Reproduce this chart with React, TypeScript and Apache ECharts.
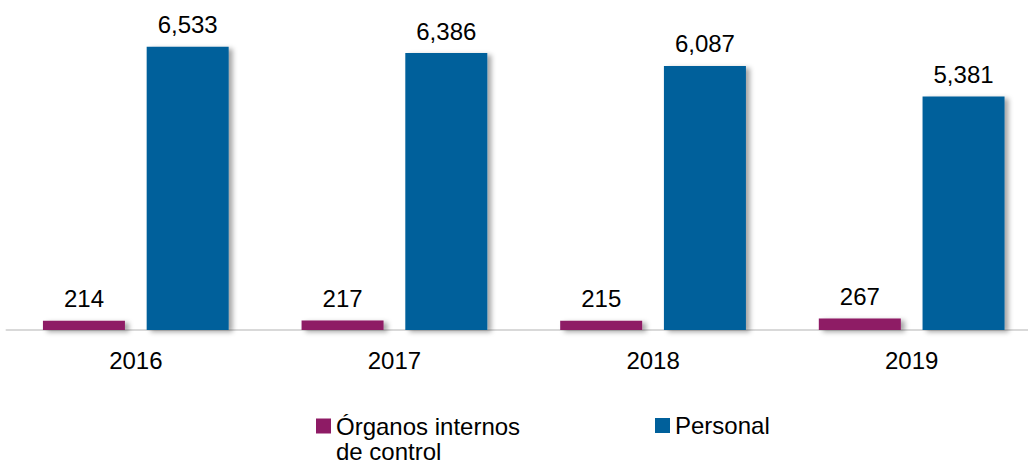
import React, { useEffect, useRef } from "react";
import * as echarts from "echarts";

const years = ["2016", "2017", "2018", "2019"];
const organosName = "Órganos internos de control";
const personalName = "Personal";
const organosValues = [214, 217, 215, 267];
const personalValues = [6533, 6386, 6087, 5381];

const FONT = 'Arial, "Liberation Sans", Helvetica, sans-serif';
const PURPLE = "#8E1B65";
const BLUE = "#00609B";

const fmt = (v: number) => v.toLocaleString("en-US");

export default function App() {
  const ref = useRef<HTMLDivElement>(null);
  useEffect(() => {
    if (!ref.current) return;
    const chart = echarts.init(ref.current, null, { renderer: "svg" });
    const shadow = {
      shadowBlur: 5,
      shadowOffsetX: 4,
      shadowOffsetY: 2,
      shadowColor: "rgba(0,0,0,0.35)",
    };
    const label = {
      show: true,
      position: "top",
      distance: 10,
      color: "#000",
      fontSize: 24,
      fontFamily: FONT,
      formatter: (p: any) => fmt(p.value),
    };
    chart.setOption({
      animation: false,
      backgroundColor: "#fff",
      grid: { left: 6.5, right: 0, top: 26.4, bottom: 134, outerBoundsMode: "none" },
      legend: [
        {
          data: [organosName],
          left: 316,
          top: 412.5,
          padding: 0,
          itemWidth: 15,
          itemHeight: 15,
          icon: "rect",
          formatter: () => "{a|Órganos internos}\n{b|de control}",
          textStyle: {
            fontSize: 24,
            fontFamily: FONT,
            color: "#000",
            rich: {
              a: {
                fontSize: 24,
                fontFamily: FONT,
                color: "#000",
                lineHeight: 45,
                height: 27,
                verticalAlign: "bottom",
              },
              b: {
                fontSize: 24,
                fontFamily: FONT,
                color: "#000",
                lineHeight: 18,
                height: 23,
                verticalAlign: "top",
              },
            },
          },
        },
        {
          data: [personalName],
          left: 655,
          top: 412,
          padding: 0,
          itemWidth: 15,
          itemHeight: 15,
          icon: "rect",
          textStyle: {
            fontSize: 24,
            fontFamily: FONT,
            color: "#000",
            lineHeight: 27,
          },
        },
      ],
      xAxis: {
        type: "category",
        data: years,
        axisTick: { show: false },
        axisLine: { show: true, lineStyle: { color: "#d9d9d9", width: 2 } },
        axisLabel: {
          color: "#000",
          fontSize: 24,
          fontFamily: FONT,
          margin: 18,
        },
      },
      yAxis: {
        type: "value",
        min: 0,
        max: 7000,
        show: false,
        splitLine: { show: false },
      },
      series: [
        {
          name: organosName,
          type: "bar",
          data: organosValues,
          barWidth: 82,
          barGap: "26.5%",
          itemStyle: { color: PURPLE, ...shadow },
          label,
        },
        {
          name: personalName,
          type: "bar",
          data: personalValues,
          barWidth: 82,
          barGap: "26.5%",
          itemStyle: { color: BLUE, ...shadow },
          label,
        },
      ],
    });
    return () => chart.dispose();
  }, []);
  return (
    <div
      ref={ref}
      style={{ position: "fixed", left: 0, top: 0, width: 1041, height: 464 }}
    />
  );
}
